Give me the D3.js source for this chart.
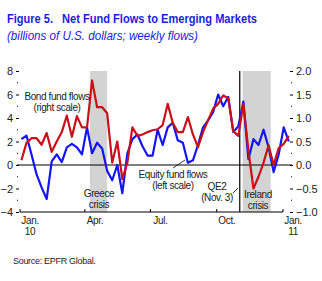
<!DOCTYPE html>
<html>
<head>
<meta charset="utf-8">
<script src="https://cdn.jsdelivr.net/npm/d3@7"></script>
<style>
    body { margin: 0; background: #fff; }
    svg { display: block; font-family: "Liberation Sans", Arial, sans-serif; }
</style>
</head>
<body>
<svg width="322" height="281"></svg>
<script>
// weekly flows, Jan 2010 - early Jan 2011
var firstWeek = new Date(2010, 0, 3), lastWeek = new Date(2011, 0, 10);

// equity fund flows, billions, left scale
var equity = [2.2, 2.5, 0.9, -0.8, -1.9, -2.9, 0.3, 0.9, 0.25, 1.5,
    1.8, 1.5, 0.9, 3.2, 1.0, 1.9, 1.4, -0.5, -1.3, 0.0,
    -2.4, 1.0, 2.2, 2.6, 1.6, 0.8, 0.8, 3.0, 1.7, 3.2,
    3.6, 2.1, 1.9, 0.2, 0.4, 1.7, 3.2, 3.8, 4.5, 6.0,
    5.0, 5.8, 2.8, 3.3, 5.4, 0.5, 2.2, 1.7, 3.0, 1.5,
    -0.6, 0.9, 3.2, 2.0];

// bond fund flows, billions, right scale
var bond = [0.1, 0.47, 0.57, 0.57, 0.43, 0.68, 0.28, 0.5, 0.7, 1.05,
    0.6, 1.04, 0.8, 0.8, 1.8, 1.23, 1.23, 1.1, 0.05, 0.5,
    -0.3, 0.05, 0.8, 0.62, 0.65, 0.7, 0.74, 0.76, 0.85, 1.3,
    0.9, 0.7, 0.7, 1.02, 0.65, 0.38, 0.7, 0.95, 1.2, 1.3,
    1.48, 1.42, 0.72, 0.62, 1.3, 0.3, -0.5, -0.25, 0.05, 0.42,
    0.0, 0.36, 0.45, 0.62];

var leftTicks = [-4, -2, 0, 2, 4, 6, 8];
var rightTicks = [-1.0, -0.5, 0.0, 0.5, 1.0, 1.5, 2.0];
var quarterTicks = [new Date(2010, 0, 1), new Date(2010, 3, 1), new Date(2010, 6, 1), new Date(2010, 9, 1), new Date(2011, 0, 1)];
var monthLabels = [["Jan.", "10"], ["Apr."], ["Jul."], ["Oct."], ["Jan.", "11"]];
var monthLabelDates = [new Date(2010, 0, 15), new Date(2010, 3, 15), new Date(2010, 6, 15), new Date(2010, 9, 15), new Date(2011, 0, 15)];

var greece = [new Date(2010, 3, 8), new Date(2010, 4, 2)];
var ireland = [new Date(2010, 10, 6), new Date(2010, 11, 15)];
var qe2 = new Date(2010, 10, 2);

var weeks = d3.timeWeek.range(firstWeek, lastWeek);

var svg = d3.select("svg");

var x = d3.scaleTime().domain([new Date(2010, 0, 1), new Date(2011, 0, 1)]).range([20, 283]),
    yL = d3.scaleLinear().domain([-4, 8]).range([212, 71]),
    yR = d3.scaleLinear().domain([-1, 2]).range([212, 71]);

// title
svg.append("text").attr("x", 7).attr("y", 23)
    .attr("font-size", "13px").attr("font-weight", "bold").attr("fill", "#1c1ce0")
    .attr("textLength", 46).attr("lengthAdjust", "spacingAndGlyphs")
    .text("Figure 5.");
svg.append("text").attr("x", 62).attr("y", 23)
    .attr("font-size", "13px").attr("font-weight", "bold").attr("fill", "#1c1ce0")
    .attr("textLength", 195).attr("lengthAdjust", "spacingAndGlyphs")
    .text("Net Fund Flows to Emerging Markets");
svg.append("text").attr("x", 7).attr("y", 40)
    .attr("font-size", "12px").attr("font-style", "italic").attr("fill", "#1c1ce0")
    .attr("textLength", 191).attr("lengthAdjust", "spacingAndGlyphs")
    .text("(billions of U.S. dollars; weekly flows)");

// shaded crisis periods
[greece, ireland].forEach(function (p) {
    svg.append("rect")
        .attr("x", x(p[0])).attr("y", yL(8))
        .attr("width", x(p[1]) - x(p[0])).attr("height", yL(-4) - yL(8))
        .attr("fill", "#d3d3d3");
});

// zero line, QE2 line, bottom axis
svg.append("line").attr("x1", 17).attr("x2", 292).attr("y1", yL(0)).attr("y2", yL(0))
    .attr("stroke", "#000").attr("stroke-width", 1.2);
svg.append("line").attr("x1", x(qe2)).attr("x2", x(qe2)).attr("y1", yL(8)).attr("y2", yL(-4))
    .attr("stroke", "#000").attr("stroke-width", 1.2);

var bottom = svg.append("g").attr("transform", "translate(0," + yL(-4) + ")");
bottom.append("line").attr("x1", x.range()[0]).attr("x2", x.range()[1])
    .attr("stroke", "#000").attr("stroke-width", 1.2);
bottom.selectAll(".xt").data(quarterTicks).enter().append("line")
    .attr("x1", function (d) { return x(d); }).attr("x2", function (d) { return x(d); })
    .attr("y1", 0).attr("y2", -3).attr("stroke", "#000");
monthLabels.forEach(function (lab, i) {
    lab.forEach(function (t, j) {
        bottom.append("text").attr("x", x(monthLabelDates[i])).attr("y", 12 + j * 11)
            .attr("text-anchor", "middle").attr("font-size", "10px").attr("fill", "#222")
            .attr("letter-spacing", "-0.3").text(t);
    });
});

// left axis
var left = svg.append("g").attr("transform", "translate(19,0)");
left.call(d3.axisLeft(yL).tickValues(leftTicks).tickSize(3).tickPadding(3).tickFormat(d3.format("d")));
left.select(".domain").remove();
left.selectAll("text").attr("font-size", "11px").attr("fill", "#222").attr("font-family", "Liberation Sans, Arial, sans-serif");
left.selectAll(".minor").data([-3, -1, 1, 3, 5, 7]).enter().append("rect")
    .attr("x", -2).attr("y", function (d) { return yL(d) - 0.5; }).attr("width", 1).attr("height", 1).attr("fill", "#000");

// right axis
var right = svg.append("g").attr("transform", "translate(290,0)");
right.call(d3.axisRight(yR).tickValues(rightTicks).tickSize(3).tickPadding(3).tickFormat(d3.format(".1f")));
right.select(".domain").remove();
right.selectAll("text").attr("font-size", "11px").attr("fill", "#222").attr("font-family", "Liberation Sans, Arial, sans-serif");
right.selectAll(".minor").data([-0.75, -0.25, 0.25, 0.75, 1.25, 1.75]).enter().append("rect")
    .attr("x", 1).attr("y", function (d) { return yR(d) - 0.5; }).attr("width", 1).attr("height", 1).attr("fill", "#000");

// series
var lineL = d3.line().x(function (d, i) { return x(weeks[i]); }).y(function (d) { return yL(d); });
var lineR = d3.line().x(function (d, i) { return x(weeks[i]); }).y(function (d) { return yR(d); });

svg.append("path").datum(equity).attr("d", lineL)
    .attr("fill", "none").attr("stroke", "#1414f5").attr("stroke-width", 2.2).attr("stroke-linejoin", "round");
svg.append("path").datum(bond).attr("d", lineR)
    .attr("fill", "none").attr("stroke", "#c8101a").attr("stroke-width", 2.2).attr("stroke-linejoin", "round");

// annotations
function note(cx, y, lines) {
    lines.forEach(function (t, i) {
        svg.append("text").attr("x", cx).attr("y", y + i * 11)
            .attr("text-anchor", "middle").attr("font-size", "10px").attr("fill", "#222")
            .attr("letter-spacing", "-0.4").text(t);
    });
}
note(57, 100, ["Bond fund flows", "(right scale)"]);
note(99, 197, ["Greece", "crisis"]);
note(173, 178, ["Equity fund flows", "(left scale)"]);
note(217, 190, ["QE2", "(Nov. 3)"]);
note(258, 198, ["Ireland", "crisis"]);

svg.append("line").attr("x1", 173).attr("y1", 168).attr("x2", 185).attr("y2", 160).attr("stroke", "#000").attr("stroke-width", 0.8);
svg.append("line").attr("x1", 233).attr("y1", 193).attr("x2", 238).attr("y2", 188).attr("stroke", "#000").attr("stroke-width", 0.8);

svg.append("text").attr("x", 13).attr("y", 264).attr("font-size", "9px").attr("fill", "#222")
    .attr("letter-spacing", "-0.3").text("Source: EPFR Global.");
</script>
</body>
</html>
